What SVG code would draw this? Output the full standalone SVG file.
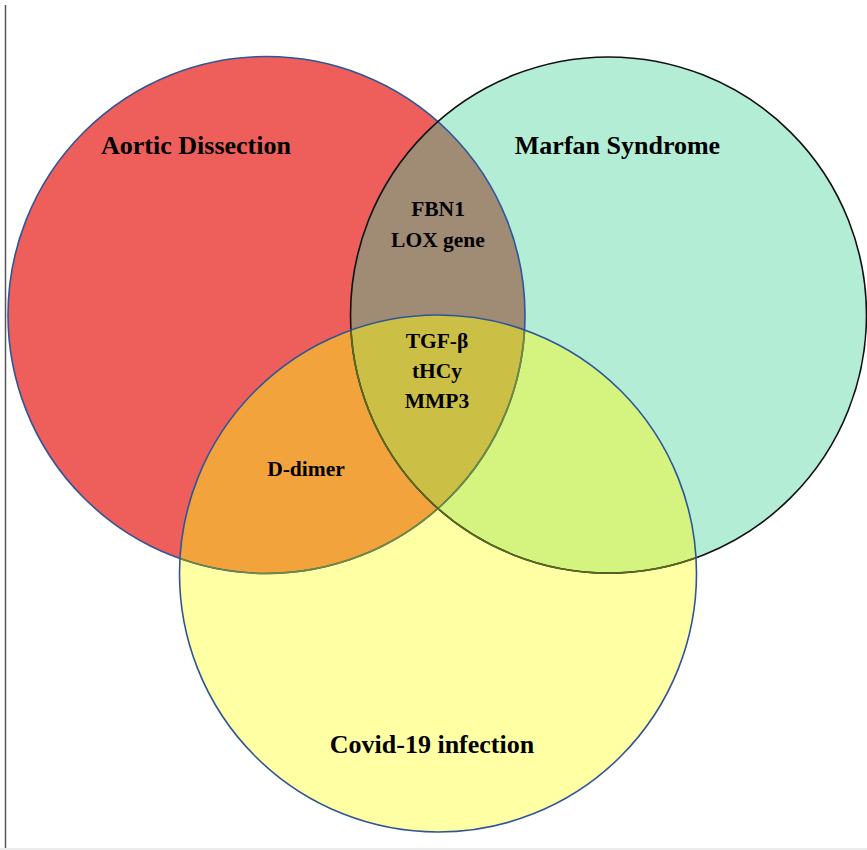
<svg xmlns="http://www.w3.org/2000/svg" width="867" height="850" viewBox="0 0 867 850">
<style>
text{font-family:"Liberation Serif","Times New Roman",serif;font-weight:bold;fill:#000;text-anchor:middle}
.t{font-size:26px}
.s{font-size:21.5px}
</style>
<defs>
<clipPath id="cR"><circle cx="266.5" cy="315" r="258.5"/></clipPath>
<clipPath id="cG"><circle cx="608.5" cy="315" r="258"/></clipPath>
<clipPath id="cY"><circle cx="438" cy="573.5" r="258.5"/></clipPath>
</defs>
<rect x="0" y="0" width="867" height="850" fill="#fff"/>
<rect x="0" y="848" width="867" height="2" fill="#ececec"/>
<line x1="5.5" y1="5" x2="5.5" y2="848" stroke="#555" stroke-width="1.5"/>
<g id="aortic">
<circle cx="266.5" cy="315" r="258.5" fill="#ee5f5b"/>
</g>
<g id="marfan">
<circle cx="608.5" cy="315" r="258" fill="#b3edd6"/>
</g>
<g id="covid">
<circle cx="438" cy="573.5" r="258.5" fill="#ffffa3"/>
</g>
<g id="overlaps">
<g clip-path="url(#cR)"><circle cx="608.5" cy="315" r="258" fill="#a08b75"/></g>
<g clip-path="url(#cR)"><circle cx="438" cy="573.5" r="258.5" fill="#f3a33c"/></g>
<g clip-path="url(#cG)"><circle cx="438" cy="573.5" r="258.5" fill="#d4f47f"/></g>
<g clip-path="url(#cR)"><g clip-path="url(#cG)"><circle cx="438" cy="573.5" r="258.5" fill="#ccbf46"/></g></g>
</g>
<g id="outlines" fill="none" stroke-width="1.6">
<circle cx="266.5" cy="315" r="258.5" stroke="#2f5597"/>
<circle cx="608.5" cy="315" r="258" stroke="#111"/>
<g clip-path="url(#cY)">
<circle cx="266.5" cy="315" r="258.5" stroke="#6f8a3a"/>
<circle cx="608.5" cy="315" r="258" stroke="#5a6a22"/>
</g>
<circle cx="438" cy="573.5" r="258.5" stroke="#2f5597"/>
</g>
<g id="labels">
<text class="t" x="196" y="154">Aortic Dissection</text>
<text class="t" x="617.5" y="154">Marfan Syndrome</text>
<text class="t" x="432" y="753">Covid-19 infection</text>
<text class="s" x="438" y="216">FBN1</text>
<text class="s" x="438" y="247">LOX gene</text>
<text class="s" x="437" y="348">TGF-β</text>
<text class="s" x="437" y="378">tHCy</text>
<text class="s" x="437" y="408">MMP3</text>
<text class="s" x="306" y="476">D-dimer</text>
</g>
</svg>
